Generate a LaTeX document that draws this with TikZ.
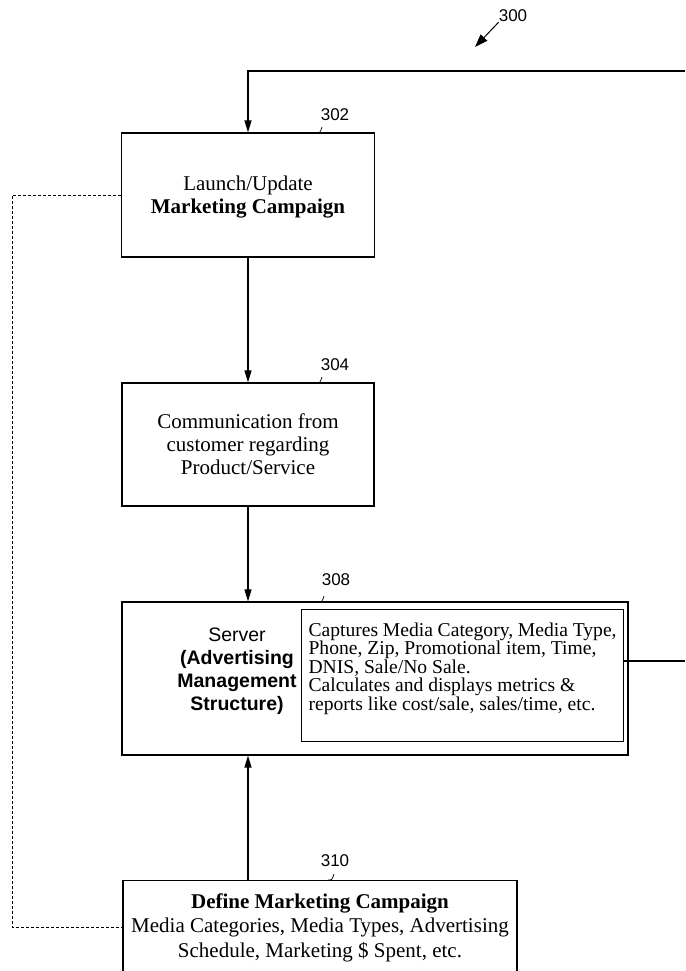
\documentclass[tikz,border=0pt]{standalone}
\usepackage{fontspec}
\setmainfont{Liberation Serif}
\setsansfont{Liberation Sans}
\usetikzlibrary{arrows.meta}

\tikzset{
  box/.style={draw, line width=1.1pt, inner sep=0pt, align=center},
  flow/.style={line width=1.1pt, -{Triangle[length=12pt,width=7pt]}},
  plainline/.style={line width=1.1pt},
  feedback/.style={line width=0.8pt, dash pattern=on 3pt off 2pt},
  reflabel/.style={font=\sffamily\fontsize{17}{17}\selectfont, inner sep=0pt},
}

\begin{document}
\begin{tikzpicture}[x=1pt,y=-1pt]
\clip (0,0) rectangle (685,971);

% the steps
\node[box, minimum width=253, minimum height=124, font=\fontsize{21}{23}\selectfont] (launch) at (248,195)
  {\rule{0pt}{18pt}Launch/Update\\\textbf{Marketing Campaign}};
\node[box, minimum width=252, minimum height=123, font=\fontsize{21}{23}\selectfont] (comm) at (248,444.5)
  {Communication from\\customer regarding\\Product/Service};
\node[box, minimum width=506, minimum height=153] (server) at (375,678.5) {};
\node[font=\sffamily\fontsize{19.5}{23}\selectfont, align=center, inner sep=0pt] (servertxt) at (237,671)
  {Server\\\textbf{(Advertising}\\\textbf{Management}\\\textbf{Structure)}};
\node[box, anchor=north west, inner sep=7pt, font=\fontsize{19.6}{18.4}\selectfont] (captures) at (301,609)
  {\parbox[t][118pt][t]{308pt}{\raggedright\rule{0pt}{20pt}Captures Media Category, Media Type,\\
   Phone, Zip, Promotional item, Time,\\DNIS, Sale/No Sale.\\
   Calculates and displays metrics \&\\reports like cost/sale, sales/time, etc.}};
\node[box, anchor=north, inner xsep=0pt, inner ysep=13pt, font=\fontsize{21}{24.5}\selectfont] (define) at (320,880)
  {\parbox[t][110pt][t]{394pt}{\centering\textbf{Define Marketing Campaign}\\
   Media Categories, Media Types, Advertising\\Schedule, Marketing \$ Spent, etc.}};

% reference numbers
\node[reflabel] (fig) at (513,16) {300};
\coordinate (figtip) at (475,47);
\draw[line width=1pt, -{Triangle[length=13pt,width=9pt]}] (fig.south west) -- (figtip);
\foreach \num/\lx/\ly/\bx/\by in {302/335/115/316/133, 304/335/365/316/383, 308/336/580/318/602, 310/335/861/328/880}
{
  \node[reflabel] (lab\num) at (\lx,\ly) {\num};
  \draw[line width=0.7pt] (\bx,\by) .. controls ({\bx+4},\by) .. ({\bx+6},{\by-6});
}

% connectors
\coordinate (topright) at (685,71);
\coordinate (sideright) at (685,661);
\coordinate (fbcorner) at (12,927);
\coordinate (fbend) at (123,927);
\draw[flow] (topright) -| (launch.north);
\draw[flow] (launch) -- (comm);
\draw[flow] (comm.south) -- (comm.south |- server.north);
\draw[flow] (launch.south |- define.north) -- (launch.south |- server.south);
\draw[plainline] (captures.east |- sideright) -- (sideright);
\draw[feedback] (launch.west) -| (fbcorner) -- (fbend);
\end{tikzpicture}
\end{document}
